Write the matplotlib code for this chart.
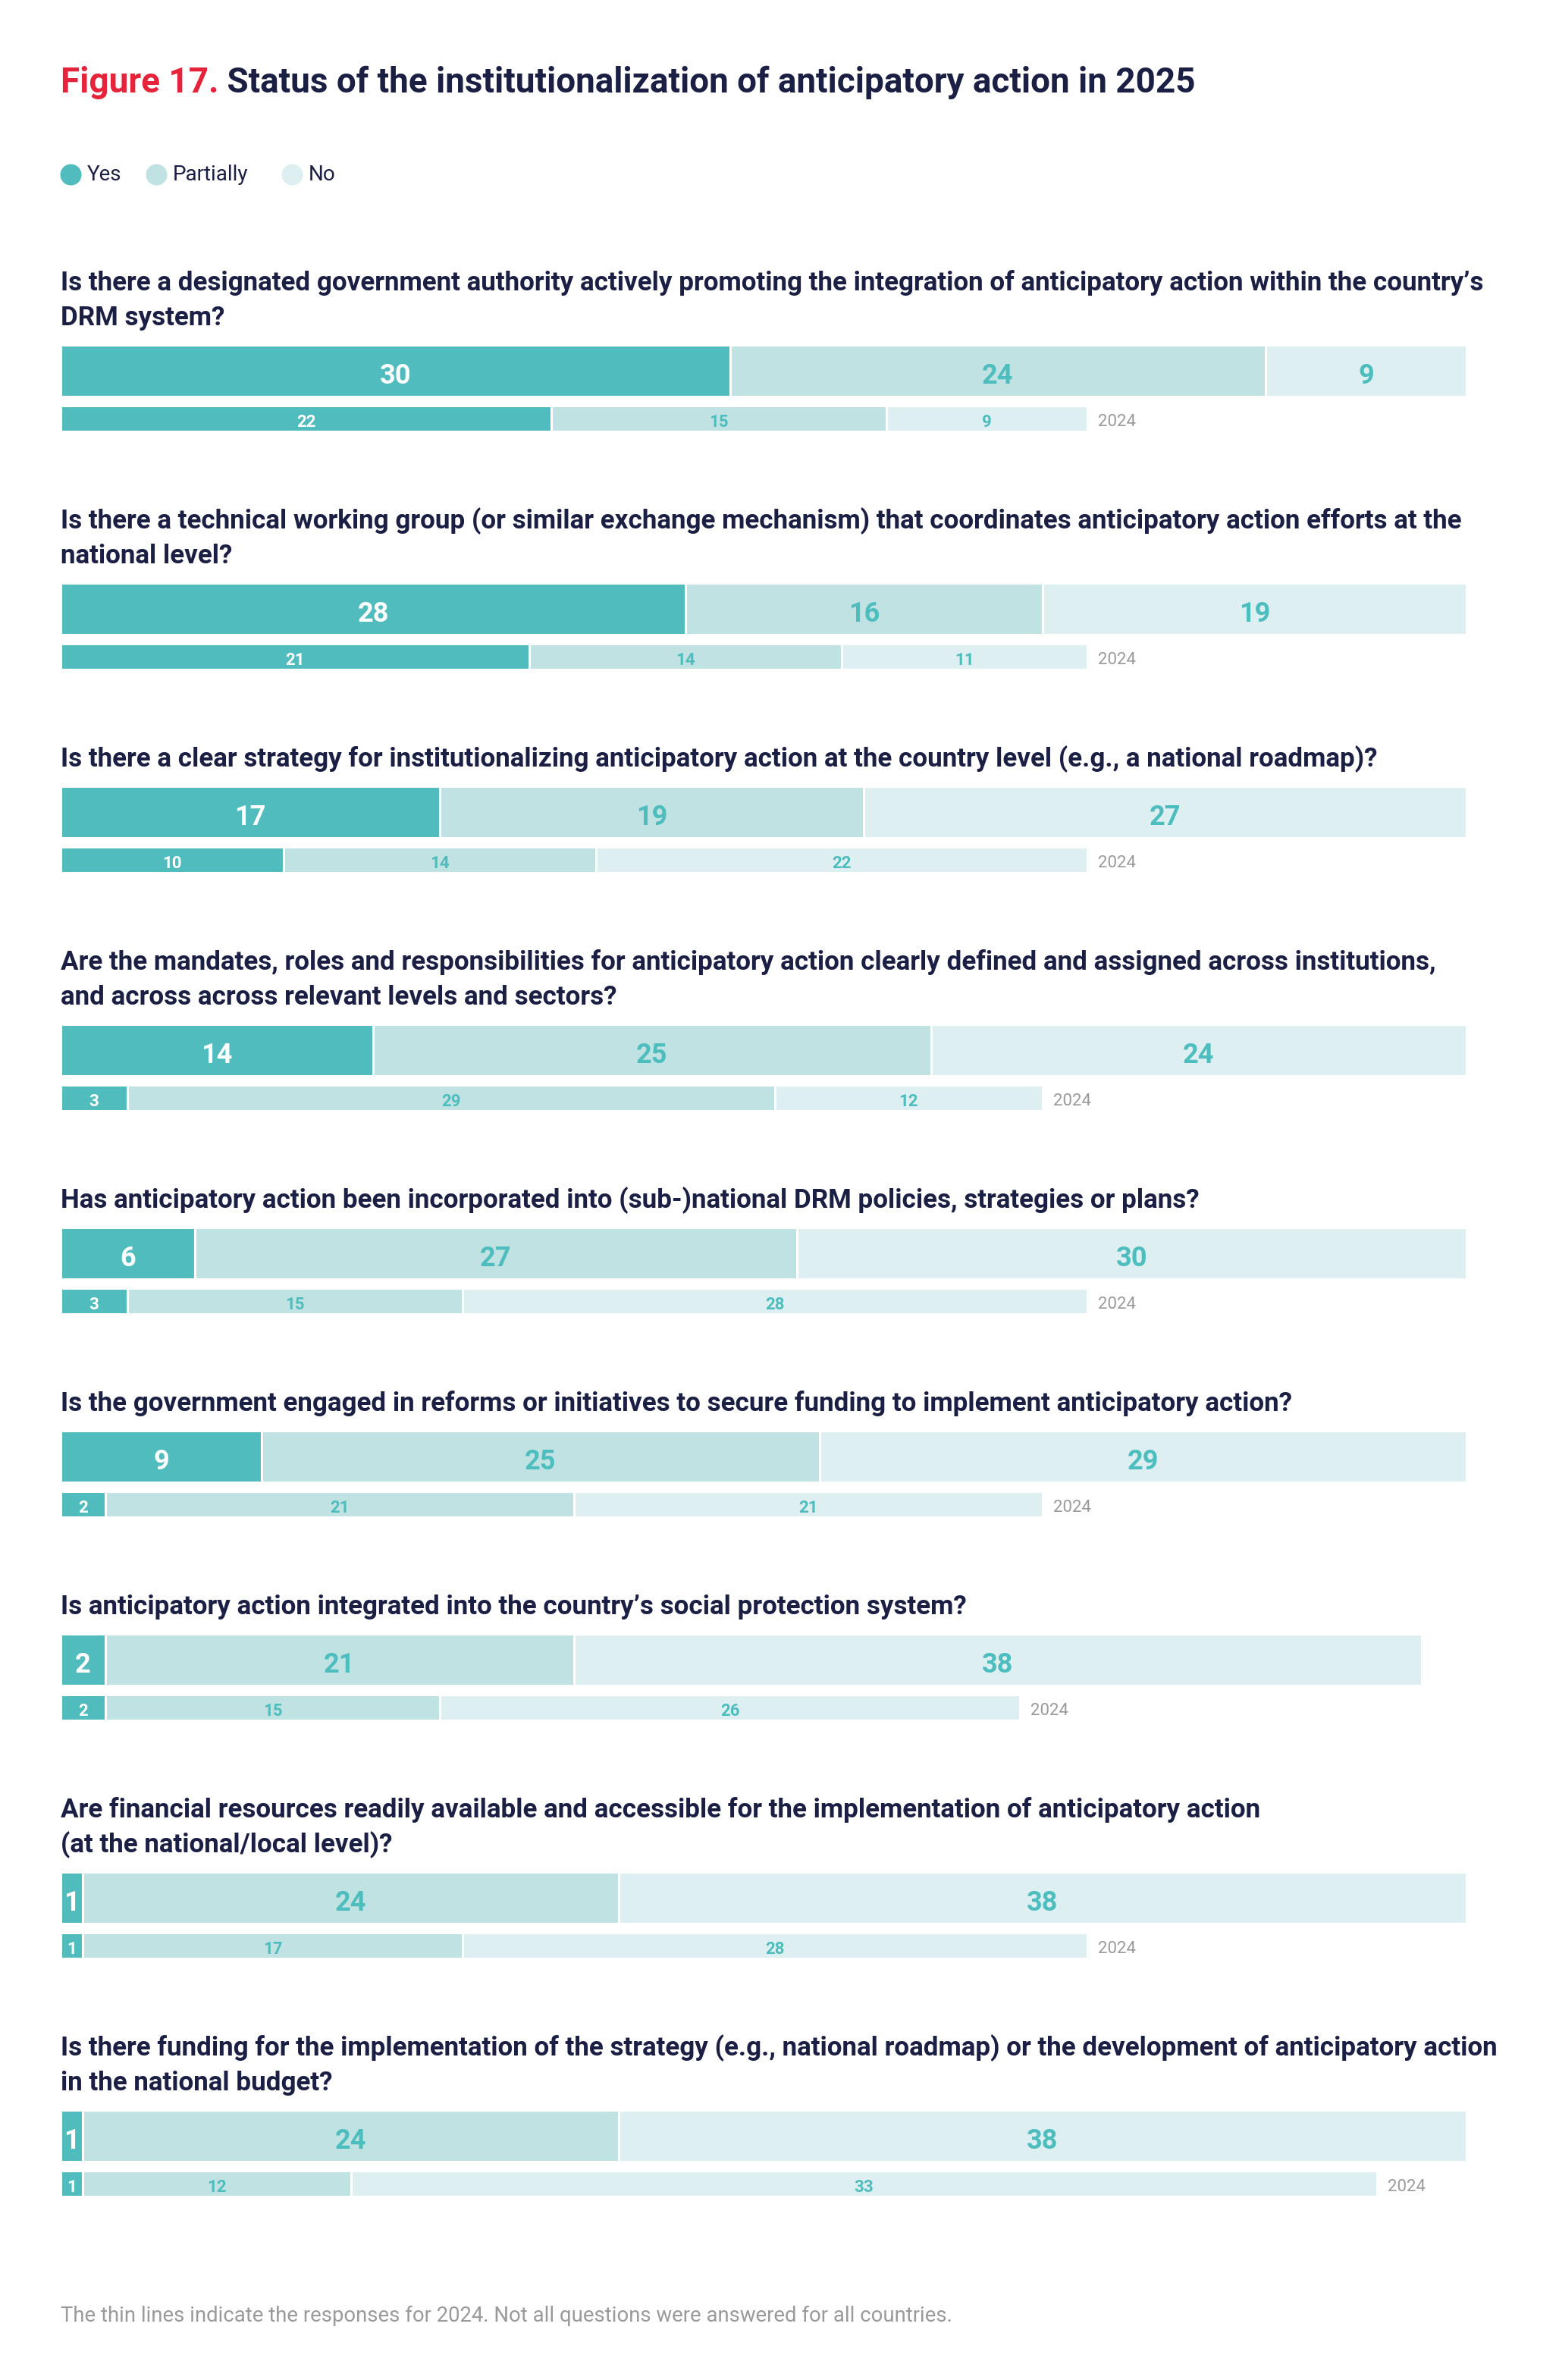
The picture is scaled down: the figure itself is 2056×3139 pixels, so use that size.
import matplotlib
matplotlib.use("Agg")
import matplotlib.pyplot as plt

plt.rcParams["font.family"] = ["Roboto", "DejaVu Sans"]

questions = [
    "Is there a designated government authority actively promoting the integration of anticipatory action within the country’s\nDRM system?",
    "Is there a technical working group (or similar exchange mechanism) that coordinates anticipatory action efforts at the\nnational level?",
    "Is there a clear strategy for institutionalizing anticipatory action at the country level (e.g., a national roadmap)?",
    "Are the mandates, roles and responsibilities for anticipatory action clearly defined and assigned across institutions,\nand across across relevant levels and sectors?",
    "Has anticipatory action been incorporated into (sub-)national DRM policies, strategies or plans?",
    "Is the government engaged in reforms or initiatives to secure funding to implement anticipatory action?",
    "Is anticipatory action integrated into the country’s social protection system?",
    "Are financial resources readily available and accessible for the implementation of anticipatory action\n(at the national/local level)?",
    "Is there funding for the implementation of the strategy (e.g., national roadmap) or the development of anticipatory action\nin the national budget?",
]

yes_2025 = [30, 28, 17, 14, 6, 9, 2, 1, 1]
partial_2025 = [24, 16, 19, 25, 27, 25, 21, 24, 24]
no_2025 = [9, 19, 27, 24, 30, 29, 38, 38, 38]

yes_2024 = [22, 21, 10, 3, 3, 2, 2, 1, 1]
partial_2024 = [15, 14, 14, 29, 15, 21, 15, 17, 12]
no_2024 = [9, 11, 22, 12, 28, 21, 26, 28, 33]
# bar lengths as drawn in the original (last one is longer than its label)
no_2024_drawn = [9, 11, 22, 12, 28, 21, 26, 28, 46]

categories = ["Yes", "Partially", "No"]
colors = ["#51bcbd", "#c0e2e2", "#ddeff1"]
TEAL = "#4dbdbe"
NAVY = "#1b1f44"
RED = "#e5233a"
GREY = "#9a9a9a"

W, H = 2056, 3139
fig = plt.figure(figsize=(W / 100, H / 100), dpi=100)
ax = fig.add_axes([0, 0, 1, 1])
unit = (1934 - 80) / 63.0
ax.set_xlim(-80 / unit, (W - 80) / unit)
ax.set_ylim(H, 0)
ax.axis("off")

xl = 0

# title
t1 = ax.text(xl, 122, "Figure 17.", color=RED, fontsize=33, fontweight="bold", va="baseline")
ax.annotate(" Status of the institutionalization of anticipatory action in 2025",
            xy=(1, 0), xycoords=t1, va="bottom", color=NAVY, fontsize=33, fontweight="bold")

# legend
leg_x = [93, 206, 385]
for lx, lab, c in zip(leg_x, categories, colors):
    ax.scatter([(lx - 80) / unit], [230], s=28 ** 2 * 0.52, color=c, marker="o", linewidths=0)
    ax.text((lx + 22 - 80) / unit, 231, lab, color=NAVY, fontsize=20, va="center")

# questions
top = 410 - 268
for i, q in enumerate(questions):
    lines = q.split("\n")
    top = top + 268 + 46 * (len(lines) - 1)
    base = top - 27 - 46 * (len(lines) - 1)
    for j, ln in enumerate(lines):
        ax.text(xl, base + 46 * j, ln, color=NAVY, fontsize=25.2, fontweight="bold", va="baseline")

    # 2025 bar
    vals = [yes_2025[i], partial_2025[i], no_2025[i]]
    left = 0
    yc = top + 33
    for k, v in enumerate(vals):
        ax.barh(yc, v, left=left, height=68, color=colors[k], edgecolor="white", linewidth=2.2)
        ax.text(left + v / 2, yc + 7, str(v), ha="center", va="center", fontsize=26,
                fontweight="bold", color="white" if k == 0 else TEAL)
        left += v

    # 2024 thin bar
    vals = [yes_2024[i], partial_2024[i], no_2024_drawn[i]]
    labs = [yes_2024[i], partial_2024[i], no_2024[i]]
    left = 0
    ys = top + 96
    for k, v in enumerate(vals):
        ax.barh(ys, v, left=left, height=34, color=colors[k], edgecolor="white", linewidth=2.2)
        ax.text(left + v / 2, ys + 5, str(labs[k]), ha="center", va="center", fontsize=16,
                fontweight="bold", color="white" if k == 0 else TEAL)
        left += v
    ax.annotate("2024", xy=(left, ys + 5), xytext=(14, 0), textcoords="offset pixels",
                va="center", ha="left", fontsize=16, color=GREY)

ax.text(xl, 3062, "The thin lines indicate the responses for 2024. Not all questions were answered for all countries.",
        color=GREY, fontsize=19.8, va="baseline")

fig.savefig("out.png", dpi=100, facecolor="white")
